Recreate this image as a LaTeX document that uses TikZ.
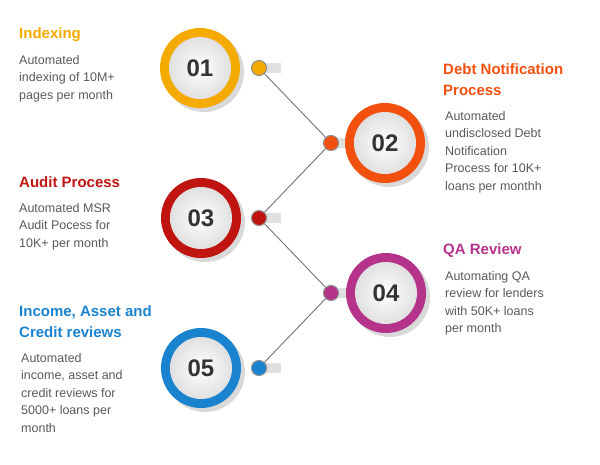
\documentclass[tikz,border=0pt]{standalone}
\usepackage{fontspec}
\setmainfont{Liberation Sans}
\begin{document}
\begin{tikzpicture}[x=1pt,y=-1pt,
 body/.style={anchor=north west,align=left,text=black!65,font=\fontsize{12.5}{17.5}\selectfont,inner sep=0pt},
 ttl/.style={anchor=north west,align=left,font=\bfseries\fontsize{15}{21}\selectfont,inner sep=0pt},
 lnk/.style={draw=black!55,line width=0.9pt}]
\useasboundingbox (0,0) rectangle (600,464);
\definecolor{c1}{HTML}{F5AA00}\definecolor{c2}{HTML}{F2500E}
\definecolor{c3}{HTML}{C01410}\definecolor{c4}{HTML}{B5338A}\definecolor{c5}{HTML}{1A83D0}
\foreach \n/\x/\y/\dx/\c in {01/200/68/259/c1, 02/385/143/331/c2, 03/201/218/259/c3, 04/386/293/331/c4, 05/201/368/259/c5}{
  \fill[black!12] (\dx+4,\y-5) rectangle (\dx+22,\y+5);
  \fill[black!15] (\x+4,\y+4) circle (40);
  \fill[\c] (\x,\y) circle (40);
  \shade[inner color=white,outer color=black!12] (\x,\y) circle (31);
  \node[font=\bfseries\fontsize{24}{24}\selectfont,text=black!80,scale=1] (n\n) at (\x,\y) {\n};
}
\foreach \n/\x/\y/\c in {1/259/68/c1,2/331/143/c2,3/259/218/c3,4/331/293/c4,5/259/368/c5}
  \node[circle,fill=\c,draw=black!45,line width=1pt,minimum size=15pt,inner sep=0pt] (d\n) at (\x,\y) {};
\draw[lnk] (d1) -- (d2); \draw[lnk] (d2) -- (d3); \draw[lnk] (d3) -- (d4); \draw[lnk] (d4) -- (d5);
\node[ttl,text=c1] (t1) at (19,27) {Indexing};
\node[body] (b1) at (19,55) {Automated\\indexing of 10M+\\pages per month};
\node[ttl,text=c2] (t2) at (443,63) {Debt Notification\\Process};
\node[body] (b2) at (445,111) {Automated\\undisclosed Debt\\Notification\\Process for 10K+\\loans per monthh};
\node[ttl,text=c3] (t3) at (19,176) {Audit Process};
\node[body] (b3) at (19,203) {Automated MSR\\Audit Pocess for\\10K+ per month};
\node[ttl,text=c4] (t4) at (443,243) {QA Review};
\node[body] (b4) at (445,271) {Automating QA\\review for lenders\\with 50K+ loans\\per month};
\node[ttl,text=c5] (t5) at (19,305) {Income, Asset and\\Credit reviews};
\node[body] (b5) at (21,353) {Automated\\income, asset and\\credit reviews for\\5000+ loans per\\month};
\end{tikzpicture}
\end{document}
